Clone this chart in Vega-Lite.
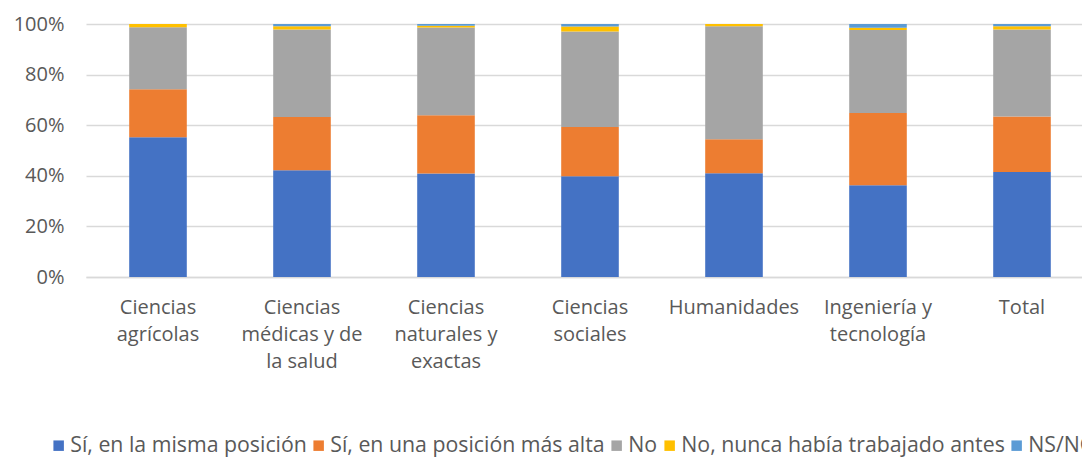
{
  "$schema": "https://vega.github.io/schema/vega-lite/v6.json",
  "autosize": {"type": "none"},
  "width": 1008,
  "height": 253,
  "padding": {"left": 86, "top": 24, "right": 0, "bottom": 194},
  "background": "white",
  "config": {
    "view": {"stroke": null},
    "font": "Open Sans",
    "axis": {"labelFont": "Open Sans", "labelColor": "#595959", "labelFontSize": 20},
    "legend": {"labelFont": "Open Sans", "labelColor": "#595959", "labelFontSize": 21.3}
  },
  "data": {
    "values": [
      {"categoria": "Ciencias\nagrícolas", "serie": "Sí, en la misma posición", "valor": 55.2},
      {"categoria": "Ciencias\nagrícolas", "serie": "Sí, en una posición más alta", "valor": 19.0},
      {"categoria": "Ciencias\nagrícolas", "serie": "No", "valor": 24.5},
      {"categoria": "Ciencias\nagrícolas", "serie": "No, nunca había trabajado antes", "valor": 1.3},
      {"categoria": "Ciencias\nagrícolas", "serie": "NS/NC", "valor": 0.0},
      {"categoria": "Ciencias\nmédicas y de\nla salud", "serie": "Sí, en la misma posición", "valor": 42.2},
      {"categoria": "Ciencias\nmédicas y de\nla salud", "serie": "Sí, en una posición más alta", "valor": 21.0},
      {"categoria": "Ciencias\nmédicas y de\nla salud", "serie": "No", "valor": 34.6},
      {"categoria": "Ciencias\nmédicas y de\nla salud", "serie": "No, nunca había trabajado antes", "valor": 1.3},
      {"categoria": "Ciencias\nmédicas y de\nla salud", "serie": "NS/NC", "valor": 0.9},
      {"categoria": "Ciencias\nnaturales y\nexactas", "serie": "Sí, en la misma posición", "valor": 40.9},
      {"categoria": "Ciencias\nnaturales y\nexactas", "serie": "Sí, en una posición más alta", "valor": 23.0},
      {"categoria": "Ciencias\nnaturales y\nexactas", "serie": "No", "valor": 34.7},
      {"categoria": "Ciencias\nnaturales y\nexactas", "serie": "No, nunca había trabajado antes", "valor": 0.7},
      {"categoria": "Ciencias\nnaturales y\nexactas", "serie": "NS/NC", "valor": 0.7},
      {"categoria": "Ciencias\nsociales", "serie": "Sí, en la misma posición", "valor": 39.8},
      {"categoria": "Ciencias\nsociales", "serie": "Sí, en una posición más alta", "valor": 19.5},
      {"categoria": "Ciencias\nsociales", "serie": "No", "valor": 37.7},
      {"categoria": "Ciencias\nsociales", "serie": "No, nunca había trabajado antes", "valor": 2.0},
      {"categoria": "Ciencias\nsociales", "serie": "NS/NC", "valor": 1.0},
      {"categoria": "Humanidades", "serie": "Sí, en la misma posición", "valor": 41.0},
      {"categoria": "Humanidades", "serie": "Sí, en una posición más alta", "valor": 13.4},
      {"categoria": "Humanidades", "serie": "No", "valor": 44.7},
      {"categoria": "Humanidades", "serie": "No, nunca había trabajado antes", "valor": 0.9},
      {"categoria": "Humanidades", "serie": "NS/NC", "valor": 0.0},
      {"categoria": "Ingeniería y\ntecnología", "serie": "Sí, en la misma posición", "valor": 36.3},
      {"categoria": "Ingeniería y\ntecnología", "serie": "Sí, en una posición más alta", "valor": 28.5},
      {"categoria": "Ingeniería y\ntecnología", "serie": "No", "valor": 32.8},
      {"categoria": "Ingeniería y\ntecnología", "serie": "No, nunca había trabajado antes", "valor": 0.9},
      {"categoria": "Ingeniería y\ntecnología", "serie": "NS/NC", "valor": 1.5},
      {"categoria": "Total", "serie": "Sí, en la misma posición", "valor": 41.5},
      {"categoria": "Total", "serie": "Sí, en una posición más alta", "valor": 21.9},
      {"categoria": "Total", "serie": "No", "valor": 34.4},
      {"categoria": "Total", "serie": "No, nunca había trabajado antes", "valor": 1.3},
      {"categoria": "Total", "serie": "NS/NC", "valor": 0.9}
    ]
  },
  "transform": [
    {"calculate": "indexof(['Sí, en la misma posición', 'Sí, en una posición más alta', 'No', 'No, nunca había trabajado antes', 'NS/NC'], datum.serie)", "as": "orden_serie"}
  ],
  "mark": {"type": "bar"},
  "encoding": {
    "x": {
      "field": "categoria",
      "type": "nominal",
      "sort": null,
      "scale": {"paddingInner": 0.6, "paddingOuter": 0.3},
      "axis": {
        "title": null,
        "labelAngle": 0,
        "labelExpr": "split(datum.label, '\\n')",
        "labelLineHeight": 27,
        "labelBaseline": "top",
        "labelPadding": 20,
        "ticks": false,
        "domain": true,
        "domainColor": "#D9D9D9",
        "domainWidth": 1.3,
        "grid": false,
        "labelLimit": 300
      }
    },
    "y": {
      "field": "valor",
      "type": "quantitative",
      "stack": "normalize",
      "scale": {"domain": [0, 1]},
      "axis": {
        "title": null,
        "values": [0, 0.2, 0.4, 0.6, 0.8, 1],
        "format": ".0%",
        "domain": false,
        "ticks": false,
        "gridColor": "#D9D9D9",
        "gridWidth": 1.3,
        "labelPadding": 22
      }
    },
    "order": {"field": "orden_serie", "type": "quantitative", "sort": "ascending"},
    "color": {
      "field": "serie",
      "type": "nominal",
      "scale": {
        "domain": ["Sí, en la misma posición", "Sí, en una posición más alta", "No", "No, nunca había trabajado antes", "NS/NC"],
        "range": ["#4472C4", "#ED7D31", "#A5A5A5", "#FFC000", "#5B9BD5"]
      },
      "legend": {
        "title": null,
        "orient": "none",
        "direction": "horizontal",
        "legendX": -38,
        "legendY": 411,
        "symbolType": "square",
        "symbolSize": 110,
        "symbolStrokeWidth": 0,
        "labelOffset": 1,
        "columnPadding": 1,
        "labelLimit": 600
      }
    }
  }
}
